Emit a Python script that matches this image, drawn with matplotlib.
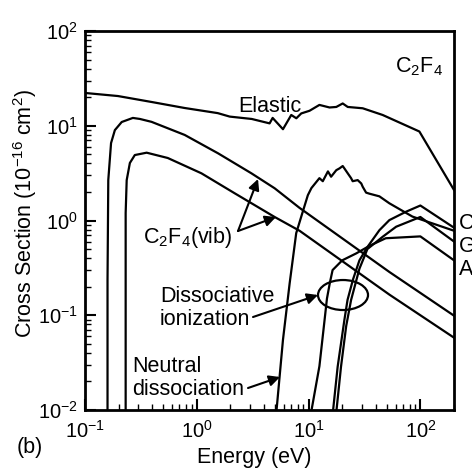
import matplotlib
matplotlib.use("Agg")
import matplotlib.pyplot as plt
from matplotlib.patches import Ellipse

plt.rcParams["font.family"] = ["Liberation Sans", "DejaVu Sans"]
plt.rcParams["mathtext.fontset"] = "custom"
plt.rcParams["mathtext.rm"] = "Liberation Sans"
plt.rcParams["mathtext.it"] = "Liberation Sans:italic"
plt.rcParams["mathtext.default"] = "regular"

# cross sections, energy in eV, sigma in 1e-16 cm^2
elastic_e = [0.1, 0.197, 0.397, 0.78, 1.54, 1.97, 3.1, 4.48, 4.77, 5.9, 7.0, 7.77, 8.6,
             10.2, 12.5, 15.4, 17.7, 20.2, 22.4, 30.5, 46, 98, 200]
elastic_s = [22.2, 20.6, 17.8, 15.4, 13.6, 12.5, 11.8, 10.6, 12.1, 9.2, 13.0, 12.0, 13.5,
             14.4, 16.6, 15.6, 15.8, 17.2, 15.8, 15.3, 13.0, 8.7, 2.1]

vib1_e = [0.159, 0.159, 0.1615, 0.171, 0.185, 0.213, 0.268, 0.31, 0.394, 0.78, 1.55,
          3.08, 4.97, 8.3, 52.9, 200]
vib1_s = [0.0095, 0.236, 2.67, 6.57, 9.0, 10.96, 12.1, 11.8, 11.0, 8.0, 5.12,
          3.15, 2.19, 1.36, 0.286, 0.099]

vib2_e = [0.231, 0.231, 0.236, 0.252, 0.279, 0.356, 0.55, 1.10, 2.18, 4.97, 8.3, 52.9, 200]
vib2_s = [0.0095, 1.2, 2.67, 4.05, 4.91, 5.2, 4.57, 3.15, 1.94, 1.09, 0.78, 0.165, 0.058]

neutral_e = [5.15, 5.9, 6.77, 7.75, 8.7, 9.85, 10.6, 12.1, 12.5, 13.4, 14.9, 15.9, 17.7,
             18.9, 20.2, 20.9, 22.4, 24.0, 24.8, 27.5, 29.6, 30.5, 32.7, 35, 43, 52.8, 85, 200]
neutral_s = [0.0095, 0.055, 0.217, 0.735, 1.15, 1.85, 2.2, 2.67, 2.8, 2.6, 3.3, 2.9, 3.4,
             3.55, 3.76, 3.55, 3.15, 2.8, 2.6, 2.67, 2.46, 2.27, 1.97, 1.92, 1.8, 1.52, 1.1, 0.78]

ion_a_e = [16.5, 18.2, 20.9, 22.3, 25, 28.5, 33.6, 43, 52.8, 74.6, 100, 200]
ion_a_s = [0.0095, 0.0286, 0.089, 0.145, 0.24, 0.38, 0.525, 0.79, 1.01, 1.24, 1.44, 0.84]

ion_b_e = [17.7, 19.5, 21.7, 24, 28.5, 33.6, 46.1, 60.7, 100, 200]
ion_b_s = [0.0095, 0.0286, 0.077, 0.145, 0.31, 0.5, 0.675, 0.86, 1.09, 0.6]

ion_c_e = [10.55, 12.5, 13.9, 14.6, 15.5, 16.4, 20, 26.7, 35, 49, 100, 200]
ion_c_s = [0.0095, 0.029, 0.089, 0.15, 0.22, 0.30, 0.38, 0.45, 0.54, 0.65, 0.68, 0.38]

FS = 15.5
LW = 1.6

fig = plt.figure(figsize=(4.72, 4.68), dpi=100)
ax = fig.add_axes([0.1801, 0.1239, 0.7818, 0.8098])

for e, s in [(elastic_e, elastic_s), (vib1_e, vib1_s), (vib2_e, vib2_s),
             (neutral_e, neutral_s), (ion_a_e, ion_a_s), (ion_b_e, ion_b_s),
             (ion_c_e, ion_c_s)]:
    ax.plot(e, s, color="black", lw=LW, solid_joinstyle="round")

ax.set_xscale("log")
ax.set_yscale("log")
ax.set_xlim(0.1, 200)
ax.set_ylim(0.01, 100)

for sp in ax.spines.values():
    sp.set_linewidth(2)
ax.tick_params(which="both", direction="in", top=False, right=False, labelsize=14.5)
ax.tick_params(which="major", length=8, width=1.5)
ax.tick_params(which="minor", length=4.3, width=1)
ax.tick_params(axis="x", pad=7)
ax.tick_params(axis="y", pad=5)


def pos(x, y):
    # pixel position in the reference -> axes fraction
    return ((x - 85) / 369, (410 - y) / 379)


def label(x, y, s, **kw):
    ax.text(*pos(x, y), s, transform=ax.transAxes, fontsize=FS, va="baseline",
            ha="left", clip_on=False, **kw)


label(238, 112, "Elastic")
label(395, 72, "C$_2$F$_4$")
label(143, 243, "C$_2$F$_4$(vib)")
label(160, 302, "Dissociative")
label(160, 325, "ionization")
label(132, 372, "Neutral")
label(132, 395, "dissociation")
# labels cut by the right edge, as in the original
label(459, 229, "C")
label(459, 252, "G")
label(459, 275, "A")

arrow = dict(arrowstyle="-|>", color="black", lw=1.5, mutation_scale=16,
             shrinkA=0, shrinkB=0)
for tail, tip in [((238, 231), (258, 179)), ((238, 231), (276, 217)),
                  ((253, 317), (318, 295)), ((248, 388), (280, 377))]:
    ax.annotate("", xy=pos(*tip), xytext=pos(*tail), xycoords="axes fraction",
                textcoords="axes fraction", arrowprops=arrow)

ax.add_patch(Ellipse(pos(343, 295), 50 / 369, 30 / 379, transform=ax.transAxes,
                     fill=False, lw=LW, color="black"))

fig.text(25 / 472, 1 - 214 / 468, "Cross Section (10$^{-16}$ cm$^2$)", rotation=90,
         ha="center", va="center", fontsize=FS)
fig.text(254 / 472, 1 - 463 / 468, "Energy (eV)", ha="center", va="baseline", fontsize=FS)
fig.text(17 / 472, 1 - 453 / 468, "(b)", ha="left", va="baseline", fontsize=FS)

fig.savefig("out.png", dpi=100)
